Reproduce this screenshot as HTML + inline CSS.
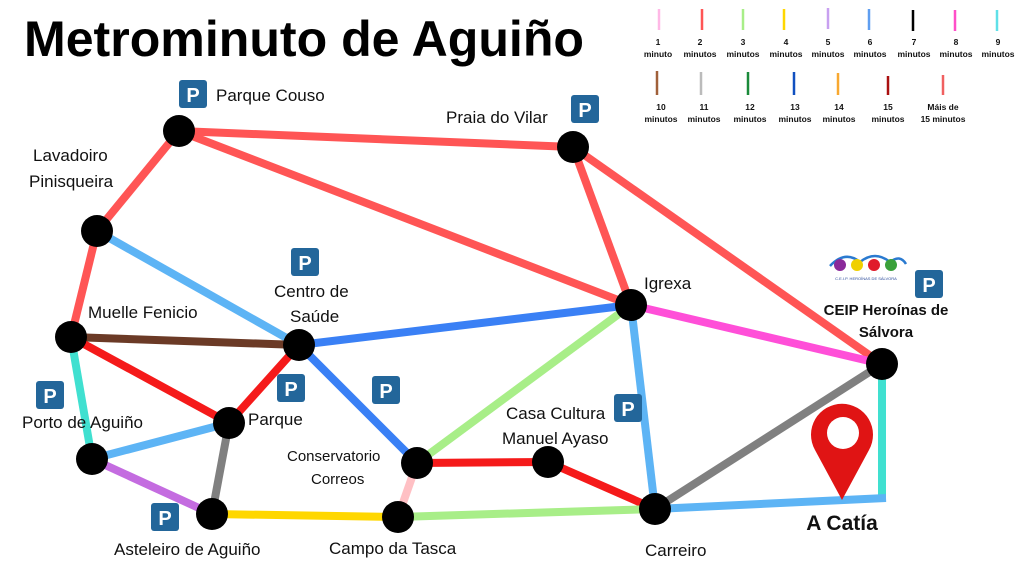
<!DOCTYPE html>
<html><head><meta charset="utf-8"><style>
html,body{margin:0;padding:0;background:#fff;}
svg{display:block;}
.l{font-family:"Liberation Sans",sans-serif;font-size:17px;fill:#111;}
.lg{font-family:"Liberation Sans",sans-serif;font-size:8.5px;font-weight:bold;fill:#111;text-anchor:middle;}
.pk text{font-family:"Liberation Sans",sans-serif;font-weight:bold;font-size:20px;fill:#fff;text-anchor:middle;}
</style></head><body>
<svg width="1024" height="576" viewBox="0 0 1024 576" xmlns="http://www.w3.org/2000/svg">
<text x="24" y="56" font-family="Liberation Sans,sans-serif" font-weight="bold" font-size="50" textLength="560" lengthAdjust="spacingAndGlyphs" fill="#000">Metrominuto de Aguiño</text>

<!-- legend -->
<g stroke-width="2.5">
<line x1="659" y1="9" x2="659" y2="30" stroke="#ffb8e6"/>
<line x1="702" y1="9" x2="702" y2="30" stroke="#f55"/>
<line x1="743" y1="9" x2="743" y2="30" stroke="#a8ee88"/>
<line x1="784" y1="9" x2="784" y2="30" stroke="#ffd700"/>
<line x1="828" y1="8" x2="828" y2="29" stroke="#c8a0f0"/>
<line x1="869" y1="9" x2="869" y2="30" stroke="#5f9ef0"/>
<line x1="913" y1="10" x2="913" y2="31" stroke="#000"/>
<line x1="955" y1="10" x2="955" y2="31" stroke="#ff4fc8"/>
<line x1="997" y1="10" x2="997" y2="31" stroke="#5fe0e8"/>
<line x1="657" y1="71" x2="657" y2="95" stroke="#a0603a"/>
<line x1="701" y1="72" x2="701" y2="95" stroke="#bbb"/>
<line x1="748" y1="72" x2="748" y2="95" stroke="#1a8a3a"/>
<line x1="794" y1="72" x2="794" y2="95" stroke="#1050c0"/>
<line x1="838" y1="73" x2="838" y2="95" stroke="#f8a830"/>
<line x1="888" y1="76" x2="888" y2="95" stroke="#aa1010"/>
<line x1="943" y1="75" x2="943" y2="95" stroke="#f06060"/>
</g>
<g class="lg">
<text x="658" y="45">1</text><text x="658" y="57">minuto</text>
<text x="700" y="45">2</text><text x="700" y="57">minutos</text>
<text x="743" y="45">3</text><text x="743" y="57">minutos</text>
<text x="786" y="45">4</text><text x="786" y="57">minutos</text>
<text x="828" y="45">5</text><text x="828" y="57">minutos</text>
<text x="870" y="45">6</text><text x="870" y="57">minutos</text>
<text x="914" y="45">7</text><text x="914" y="57">minutos</text>
<text x="956" y="45">8</text><text x="956" y="57">minutos</text>
<text x="998" y="45">9</text><text x="998" y="57">minutos</text>
<text x="661" y="110">10</text><text x="661" y="122">minutos</text>
<text x="704" y="110">11</text><text x="704" y="122">minutos</text>
<text x="750" y="110">12</text><text x="750" y="122">minutos</text>
<text x="795" y="110">13</text><text x="795" y="122">minutos</text>
<text x="839" y="110">14</text><text x="839" y="122">minutos</text>
<text x="888" y="110">15</text><text x="888" y="122">minutos</text>
<text x="943" y="110">Máis de</text><text x="943" y="122">15 minutos</text>
</g>

<!-- edges -->
<g stroke-width="8" stroke-linecap="butt" fill="none">
<line x1="179" y1="131" x2="573" y2="147" stroke="#f55"/>
<line x1="179" y1="131" x2="631" y2="305" stroke="#f55"/>
<line x1="573" y1="147" x2="631" y2="305" stroke="#f55"/>
<line x1="573" y1="147" x2="882" y2="364" stroke="#f55"/>
<line x1="179" y1="131" x2="97" y2="231" stroke="#f55"/>
<line x1="97" y1="231" x2="71" y2="337" stroke="#f55"/>
<line x1="97" y1="231" x2="299" y2="345" stroke="#5db4f5"/>
<line x1="71" y1="337" x2="299" y2="345" stroke="#6b3a26"/>
<line x1="71" y1="337" x2="229" y2="423" stroke="#f51a1a"/>
<line x1="71" y1="337" x2="92" y2="459" stroke="#40e0d0"/>
<line x1="299" y1="345" x2="229" y2="423" stroke="#f51a1a"/>
<line x1="299" y1="345" x2="631" y2="305" stroke="#3a80f5"/>
<line x1="299" y1="345" x2="417" y2="463" stroke="#3a80f5"/>
<line x1="631" y1="305" x2="882" y2="364" stroke="#ff4fd8"/>
<line x1="631" y1="305" x2="417" y2="463" stroke="#a8ee88"/>
<line x1="631" y1="305" x2="655" y2="509" stroke="#5db4f5"/>
<line x1="882" y1="364" x2="655" y2="509" stroke="#808080"/>
<line x1="882" y1="364" x2="882" y2="498" stroke="#40e0d0"/>
<line x1="655" y1="509" x2="886" y2="498" stroke="#5db4f5"/>
<line x1="92" y1="459" x2="229" y2="423" stroke="#5db4f5"/>
<line x1="92" y1="459" x2="212" y2="514" stroke="#c46ce0"/>
<line x1="229" y1="423" x2="212" y2="514" stroke="#808080"/>
<line x1="212" y1="514" x2="398" y2="517" stroke="#ffd700"/>
<line x1="398" y1="517" x2="417" y2="463" stroke="#ffc0c4"/>
<line x1="417" y1="463" x2="548" y2="462" stroke="#f51a1a"/>
<line x1="548" y1="462" x2="655" y2="509" stroke="#f51a1a"/>
<line x1="398" y1="517" x2="655" y2="509" stroke="#a8ee88"/>
</g>

<!-- nodes -->
<g fill="#000">
<circle cx="179" cy="131" r="16"/><circle cx="573" cy="147" r="16"/>
<circle cx="97" cy="231" r="16"/><circle cx="631" cy="305" r="16"/>
<circle cx="882" cy="364" r="16"/><circle cx="71" cy="337" r="16"/>
<circle cx="299" cy="345" r="16"/><circle cx="229" cy="423" r="16"/>
<circle cx="92" cy="459" r="16"/><circle cx="212" cy="514" r="16"/>
<circle cx="417" cy="463" r="16"/><circle cx="548" cy="462" r="16"/>
<circle cx="398" cy="517" r="16"/><circle cx="655" cy="509" r="16"/>
</g>

<!-- pin -->
<path d="M842,500 L815,450 A31,31 0 1 1 869,450 Z" fill="#e01414"/>
<circle cx="843" cy="433" r="16" fill="#fff"/>

<!-- parking -->
<g class="pk">
<g transform="translate(179,80)"><rect width="28" height="28" rx="3" fill="#23669a"/><text x="14" y="22">P</text></g>
<g transform="translate(571,95)"><rect width="28" height="28" rx="3" fill="#23669a"/><text x="14" y="22">P</text></g>
<g transform="translate(291,248)"><rect width="28" height="28" rx="3" fill="#23669a"/><text x="14" y="22">P</text></g>
<g transform="translate(915,270)"><rect width="28" height="28" rx="3" fill="#23669a"/><text x="14" y="22">P</text></g>
<g transform="translate(277,374)"><rect width="28" height="28" rx="3" fill="#23669a"/><text x="14" y="22">P</text></g>
<g transform="translate(372,376)"><rect width="28" height="28" rx="3" fill="#23669a"/><text x="14" y="22">P</text></g>
<g transform="translate(36,381)"><rect width="28" height="28" rx="3" fill="#23669a"/><text x="14" y="22">P</text></g>
<g transform="translate(614,394)"><rect width="28" height="28" rx="3" fill="#23669a"/><text x="14" y="22">P</text></g>
<g transform="translate(151,503)"><rect width="28" height="28" rx="3" fill="#23669a"/><text x="14" y="22">P</text></g>
</g>

<!-- logo -->
<g>
<path d="M830,266 Q845,250 860,262 Q875,250 890,262 Q900,254 906,264" stroke="#2a7ad0" stroke-width="2.5" fill="none"/>
<circle cx="840" cy="265" r="6" fill="#8a2a9a"/><circle cx="857" cy="265" r="6" fill="#f0d000"/>
<circle cx="874" cy="265" r="6" fill="#e01a2a"/><circle cx="891" cy="265" r="6" fill="#3aa03a"/>
<text x="866" y="280" font-family="Liberation Sans,sans-serif" font-size="4" fill="#2a4a9a" text-anchor="middle">C.E.I.P. HEROÍNAS DE SÁLVORA</text>
</g>

<!-- labels -->
<g class="l">
<text x="216" y="101">Parque Couso</text>
<text x="446" y="123">Praia do Vilar</text>
<text x="33" y="161">Lavadoiro</text>
<text x="29" y="187">Pinisqueira</text>
<text x="274" y="297">Centro de</text>
<text x="290" y="322">Saúde</text>
<text x="644" y="289">Igrexa</text>
<text x="88" y="318">Muelle Fenicio</text>
<text x="22" y="428">Porto de Aguiño</text>
<text x="248" y="425">Parque</text>
<text x="287" y="461" font-size="15">Conservatorio</text>
<text x="311" y="484" font-size="15">Correos</text>
<text x="506" y="419">Casa Cultura</text>
<text x="502" y="444">Manuel Ayaso</text>
<text x="114" y="555">Asteleiro de Aguiño</text>
<text x="329" y="554">Campo da Tasca</text>
<text x="645" y="556">Carreiro</text>
</g>
<text x="886" y="315" font-family="Liberation Sans,sans-serif" font-weight="bold" font-size="15" text-anchor="middle" fill="#111">CEIP Heroínas de</text>
<text x="886" y="337" font-family="Liberation Sans,sans-serif" font-weight="bold" font-size="15" text-anchor="middle" fill="#111">Sálvora</text>
<text x="842" y="530" font-family="Liberation Sans,sans-serif" font-weight="bold" font-size="21" text-anchor="middle" fill="#111">A Catía</text>
</svg>
</body></html>
